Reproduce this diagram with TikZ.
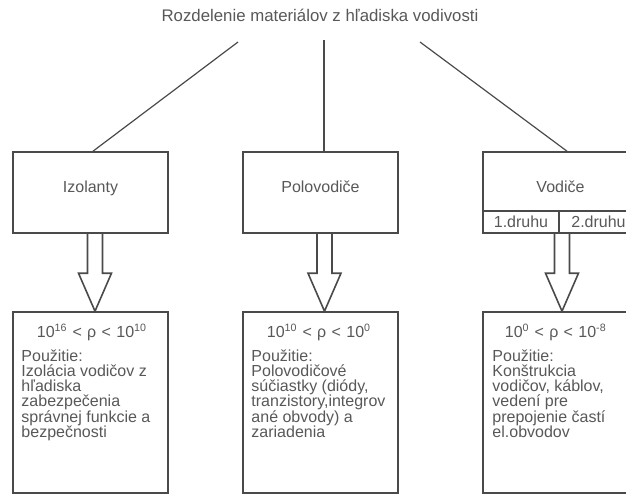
\documentclass[tikz,border=0pt]{standalone}
\usepackage{fontspec}
\setmainfont{Liberation Sans}
\usetikzlibrary{calc,positioning}
\definecolor{ScanGray}{HTML}{4A4A4A}
\definecolor{ScanText}{HTML}{585858}
\newcommand\hollowarrow[2]{%
  \draw[hollow] ($(#1)+(-7.5,0)$) -- ($(#2)+(-7.5,-38)$) -- ($(#2)+(-16.5,-38)$) -- (#2)
    -- ($(#2)+(16.5,-38)$) -- ($(#2)+(7.5,-38)$) -- ($(#1)+(7.5,0)$);}

\begin{document}
\begin{tikzpicture}[x=0.75pt,y=-0.75pt,
  every node/.style={font=\fontsize{12pt}{11.25pt}\selectfont,text=ScanText},
  kind/.style={draw=ScanGray,line width=1.2pt,minimum width=116.25pt,minimum height=60.75pt,inner sep=0pt,text depth=8pt},
  sort/.style={draw=ScanGray,line width=1.2pt,minimum height=16.5pt,inner sep=0pt},
  usebox/.style={draw=ScanGray,line width=1.2pt,minimum width=116.25pt,minimum height=135.75pt},
  rho/.style={anchor=base west},
  usetext/.style={anchor=north west,align=left,inner sep=0pt},
  branch/.style={draw=ScanGray,line width=0.9pt},
  hollow/.style={draw=ScanGray,line width=1.2pt,line join=miter}
]
\useasboundingbox (0,0) rectangle (626,496);

\node[font=\fontsize{12.6pt}{14pt}\selectfont] (title) at (320,15) {Rozdelenie materiálov z hľadiska vodivosti};

% kinds of material
\node[kind] (izol) at (90.5,192.5) {Izolanty};
\node[kind] (polo) at (320.5,192.5) {Polovodiče};
\node[kind] (vodi) at (560.5,192.5) {Vodiče};
\node[sort,minimum width=57pt] (druh1) at (521,222) {1.druhu};
\node[sort,minimum width=59.25pt] (druh2) at (598.5,222) {2.druhu};

% usage boxes
\node[usebox] (izuse) at (90.5,402.5) {};
\node[usebox] (pouse) at (320.5,402.5) {};
\node[usebox] (vouse) at (560.5,402.5) {};

\node[rho] (izrho) at ($(izuse.north west)+(20,26)$) {10\textsuperscript{16}\,\,<\,\,ρ\,\,<\,\,10\textsuperscript{10}};
\node[rho] (porho) at ($(pouse.north west)+(20,26)$) {10\textsuperscript{10}\,\,<\,\,ρ\,\,<\,\,10\textsuperscript{0}};
\node[rho] (vorho) at ($(vouse.north west)+(18,26)$) {10\textsuperscript{0}\,\,<\,\,ρ\,\,<\,\,10\textsuperscript{-8}};

\node[usetext] (izpou) at ($(izuse.north west)+(9,38)$) {Použitie:\\Izolácia vodičov z\\hľadiska\\zabezpečenia\\správnej funkcie a\\bezpečnosti};
\node[usetext] (popou) at ($(pouse.north west)+(9,38)$) {Použitie:\\Polovodičové\\súčiastky (diódy,\\tranzistory,integrov\\ané obvody) a\\zariadenia};
\node[usetext] (vopou) at ($(vouse.north west)+(10,38)$) {Použitie:\\Konštrukcia\\vodičov, káblov,\\vedení pre\\prepojenie častí\\el.obvodov};

% branches from the title
\coordinate (fork1) at (238,42);
\coordinate (fork2) at (324,40);
\coordinate (fork3) at (420,42);
\draw[branch] (fork1) -- ($(izol.north)+(2.5,0)$);
\draw[branch] (fork2) -- ($(polo.north)+(3.5,0)$);
\draw[branch] (fork3) -- ($(vodi.north)+(6.5,0)$);

% hollow arrows
\coordinate (izfoot) at ($(izol.south)+(4.5,0)$);
\coordinate (pofoot) at ($(polo.south)+(4,0)$);
\coordinate (vofoot) at ($(vodi.south)+(1.5,0)$);
\hollowarrow{izfoot}{izfoot |- izuse.north}
\hollowarrow{pofoot}{pofoot |- pouse.north}
\hollowarrow{vofoot}{vofoot |- vouse.north}
\end{tikzpicture}
\end{document}
